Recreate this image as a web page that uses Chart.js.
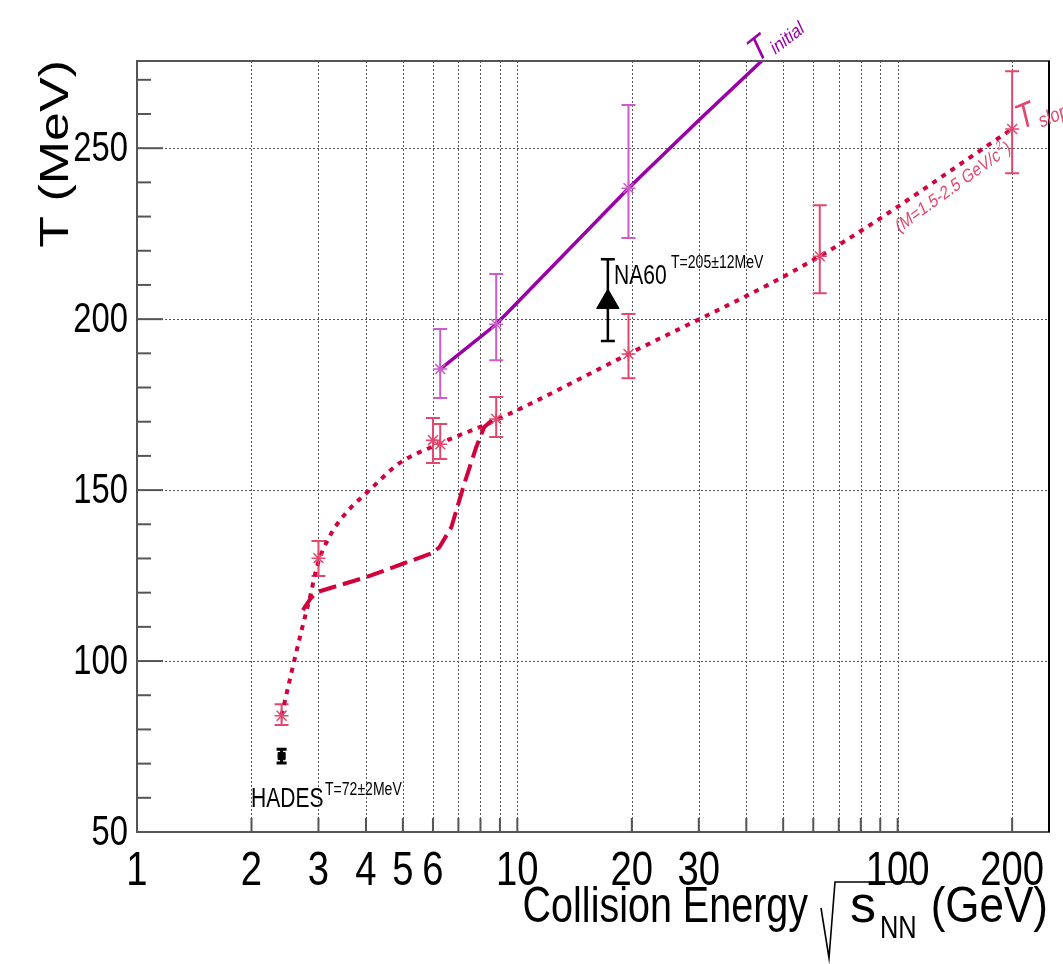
<!DOCTYPE html>
<html>
<head>
<meta charset="utf-8">
<script src="https://cdn.jsdelivr.net/npm/chart.js@4.4.1/dist/chart.umd.min.js"></script>
<style>
  html, body { margin: 0; padding: 0; background: #fff; }
</style>
</head>
<body>
<canvas id="graphCanvas" width="1063" height="964"></canvas>
<script>
// T_slope measurements (stars)
const slopeEnergy = [2.4, 3.0, 6.0, 6.27, 8.8, 19.6, 62.4, 200];
const slopeT      = [84.0, 130.1, 164.6, 163.4, 170.8, 189.8, 218.4, 255.6];
const slopeTHi    = [87.4, 135.1, 171.1, 169.3, 177.2, 201.5, 233.3, 272.5];
const slopeTLo    = [81.3, 124.9, 157.9, 159.1, 165.5, 182.7, 207.6, 242.7];

// T_initial measurements
const initEnergy = [6.27, 8.8, 19.6];
const initT      = [185.4, 198.5, 238.3];
const initTHi    = [197.1, 213.2, 262.6];
const initTLo    = [176.9, 188.0, 223.7];

// T_initial trend line (runs off the top of the frame)
const initLineE = [6.27, 8.8, 19.6, 30.0, 43.9];
const initLineT = [185.4, 198.5, 238.3, 258.2, 275.5];

// dotted curve (T_slope, M=1.5-2.5 GeV/c2)
const dotE = [2.4, 2.52, 2.71, 2.85, 2.98, 3.2, 3.5, 4.09, 4.9, 5.95, 8.8, 19.6, 62.4, 200];
const dotT = [84.0, 94.4, 109.1, 118.7, 128.0, 136.2, 142.6, 150.0, 157.9, 162.6, 170.5, 189.8, 218.4, 255.6];

// long-dashed curve
const dashE = [2.73, 2.86, 2.98, 4.02, 5.98, 6.24, 6.71, 7.26, 7.8, 8.18, 8.7];
const dashT = [114.9, 118.3, 120.2, 124.6, 131.6, 133.3, 139.2, 152.0, 162.6, 168.4, 171.0];

// HADES and NA60 points
const hades = { e: 2.4, t: 72.2, hi: 74.2, lo: 70.2 };
const na60  = { e: 17.3, t: 205, hi: 217.5, lo: 193.6 };

// axis ticks
const xTickVals  = [1, 2, 3, 4, 5, 6, 7, 8, 9, 10, 20, 30, 40, 50, 60, 70, 80, 90, 100, 200];
const xLabelVals = [1, 2, 3, 4, 5, 6, 10, 20, 30, 100, 200];
const yMajor = [50, 100, 150, 200, 250];
const yMinor = [60, 70, 80, 90, 110, 120, 130, 140, 160, 170, 180, 190, 210, 220, 230, 240, 260, 270];

const FONT = '"Liberation Sans", Arial, Helvetica, sans-serif';
const SQ = 0.78; // horizontal squeeze of the ROOT text look

const CRIMSON = '#d4003c';
const PINK = '#e2486e';
const PURPLE = '#9a00a8';
const LPURPLE = '#cc5ccc';

const pts = (xs, ys) => xs.map((v, i) => ({ x: v, y: ys[i] }));

function txt(ctx, s, x, y, size, opt) {
  opt = opt || {};
  ctx.save();
  ctx.translate(x, y);
  ctx.scale(opt.sx || SQ, 1);
  if (opt.rot) ctx.rotate(opt.rot);
  ctx.font = size + 'px ' + FONT;
  ctx.fillStyle = opt.color || '#000';
  ctx.textAlign = opt.align || 'left';
  ctx.textBaseline = opt.base || 'alphabetic';
  ctx.fillText(s, 0, 0);
  ctx.restore();
}
// visible angle -> angle inside squeezed frame
const rotFor = deg => -Math.atan(Math.tan(deg * Math.PI / 180) * SQ);

function errBar(ctx, x, y, e, hi, lo, cap, color, lw) {
  const px = x.getPixelForValue(e);
  const top = y.getPixelForValue(hi), bot = y.getPixelForValue(lo);
  ctx.strokeStyle = color;
  ctx.lineWidth = lw;
  ctx.beginPath();
  ctx.moveTo(px, top); ctx.lineTo(px, bot);
  ctx.moveTo(px - cap, top); ctx.lineTo(px + cap, top);
  ctx.moveTo(px - cap, bot); ctx.lineTo(px + cap, bot);
  ctx.stroke();
}

const rootStyle = {
  id: 'rootStyle',
  beforeDatasetsDraw(chart) {
    const { ctx, chartArea: a, scales: { x, y } } = chart;
    ctx.save();
    // dotted grid
    ctx.strokeStyle = '#555';
    ctx.lineWidth = 1;
    ctx.setLineDash([2, 2]);
    xTickVals.slice(1).forEach(v => {
      const px = Math.round(x.getPixelForValue(v)) + 0.5;
      ctx.beginPath(); ctx.moveTo(px, a.top); ctx.lineTo(px, a.bottom); ctx.stroke();
    });
    yMajor.slice(1).forEach(v => {
      const py = Math.round(y.getPixelForValue(v)) + 0.5;
      ctx.beginPath(); ctx.moveTo(a.left, py); ctx.lineTo(a.right, py); ctx.stroke();
    });
    ctx.setLineDash([]);
    // error bars
    slopeEnergy.forEach((e, i) => errBar(ctx, x, y, e, slopeTHi[i], slopeTLo[i], 7, PINK, 2));
    initEnergy.forEach((e, i) => errBar(ctx, x, y, e, initTHi[i], initTLo[i], 7, LPURPLE, 2));
    errBar(ctx, x, y, hades.e, hades.hi, hades.lo, 5, '#000', 3);
    errBar(ctx, x, y, na60.e, na60.hi, na60.lo, 7, '#000', 2.5);
    ctx.restore();
  },
  afterDatasetsDraw(chart) {
    const { ctx, chartArea: a, scales: { x, y } } = chart;
    ctx.save();
    // frame
    ctx.strokeStyle = '#555';
    ctx.lineWidth = 2;
    ctx.strokeRect(a.left, a.top, a.right - a.left, a.bottom - a.top);
    ctx.strokeStyle = '#000';
    ctx.beginPath(); ctx.moveTo(a.right, a.top); ctx.lineTo(a.right, a.bottom); ctx.stroke();
    // ticks
    ctx.strokeStyle = '#555';
    ctx.lineWidth = 2;
    xTickVals.forEach(v => {
      const px = x.getPixelForValue(v);
      ctx.beginPath(); ctx.moveTo(px, a.bottom); ctx.lineTo(px, a.bottom - 14); ctx.stroke();
    });
    yMajor.forEach(v => {
      const py = y.getPixelForValue(v);
      ctx.beginPath(); ctx.moveTo(a.left, py); ctx.lineTo(a.left + 26, py); ctx.stroke();
    });
    yMinor.forEach(v => {
      const py = y.getPixelForValue(v);
      ctx.beginPath(); ctx.moveTo(a.left, py); ctx.lineTo(a.left + 14, py); ctx.stroke();
    });
    // tick labels
    xLabelVals.forEach(v => txt(ctx, String(v), x.getPixelForValue(v), a.bottom + 53, 49, { align: 'center' }));
    yMajor.forEach(v => txt(ctx, String(v), a.left - 9, y.getPixelForValue(v) + 1, 42, { align: 'right', base: 'middle' }));

    // axis titles
    txt(ctx, 'T (MeV)', 68, a.top - 1, 52, { align: 'right', rot: -Math.PI / 2 });

    const base = 922;
    txt(ctx, '(GeV)', 1048, base, 50, { align: 'right', sx: 0.88 });
    txt(ctx, 'NN', 880, base + 16, 31, { sx: 0.82 });
    txt(ctx, 's', 850, base, 52, { sx: 1.0 });
    ctx.strokeStyle = '#000';
    ctx.lineWidth = 1.6;
    ctx.beginPath();
    ctx.moveTo(821, base - 14);
    ctx.lineTo(829, base + 36);
    ctx.lineTo(835, base - 40);
    ctx.lineTo(917, base - 40);
    ctx.stroke();
    txt(ctx, 'Collision Energy', 808, base, 50, { align: 'right', sx: 0.79 });

    // annotations
    txt(ctx, 'HADES', 251, 807, 27);
    txt(ctx, 'T=72\u00b12MeV', 325, 795, 18);
    txt(ctx, 'NA60', 614, 284, 27);
    txt(ctx, 'T=205\u00b112MeV', 671, 268, 18);

    // T_initial
    ctx.save();
    ctx.translate(756, 64);
    ctx.scale(SQ, 1);
    ctx.rotate(rotFor(38));
    ctx.fillStyle = PURPLE;
    ctx.font = '36px ' + FONT;
    ctx.fillText('T', 0, 0);
    const wT = ctx.measureText('T').width;
    ctx.font = '20px ' + FONT;
    ctx.fillText('initial', wT + 3, 5);
    ctx.restore();

    // T_slope (runs off the canvas edge)
    ctx.save();
    ctx.translate(1020, 130);
    ctx.scale(SQ, 1);
    ctx.rotate(rotFor(22));
    ctx.fillStyle = PINK;
    ctx.font = '36px ' + FONT;
    ctx.fillText('T', 0, 0);
    const wT2 = ctx.measureText('T').width;
    ctx.font = '21px ' + FONT;
    ctx.fillText('slope', wT2 + 4, 6);
    ctx.restore();

    // mass window label along the dotted curve
    ctx.save();
    ctx.translate(899, 233);
    ctx.scale(SQ, 1);
    ctx.rotate(rotFor(36));
    ctx.fillStyle = PINK;
    ctx.font = '19px ' + FONT;
    ctx.fillText('(M=1.5-2.5 GeV/c', 0, 0);
    const wm = ctx.measureText('(M=1.5-2.5 GeV/c').width;
    ctx.font = '12px ' + FONT;
    ctx.fillText('2', wm + 1, -9);
    ctx.font = '19px ' + FONT;
    ctx.fillText(')', wm + 9, 0);
    ctx.restore();

    ctx.restore();
  }
};

const canvas = document.getElementById('graphCanvas');
const ctx = canvas.getContext('2d');

new Chart(ctx, {
  type: 'scatter',
  data: {
    datasets: [
      {
        data: [{ x: na60.e, y: na60.t }],
        pointStyle: 'triangle', pointRadius: 13,
        backgroundColor: '#000', borderColor: '#000', borderWidth: 1
      },
      {
        data: [{ x: hades.e, y: hades.t }],
        pointStyle: 'rect', pointRadius: 5,
        backgroundColor: '#000', borderColor: '#000', borderWidth: 1
      },
      {
        data: pts(slopeEnergy, slopeT),
        pointStyle: 'star', pointRadius: 7,
        borderColor: PINK, backgroundColor: PINK, borderWidth: 1.5
      },
      {
        data: pts(initEnergy, initT),
        pointStyle: 'star', pointRadius: 7,
        borderColor: LPURPLE, backgroundColor: LPURPLE, borderWidth: 1.5
      },
      {
        data: pts(initLineE, initLineT),
        showLine: true, pointRadius: 0,
        borderColor: PURPLE, borderWidth: 3.5
      },
      {
        data: pts(dashE, dashT),
        showLine: true, pointRadius: 0,
        borderColor: CRIMSON, borderWidth: 4, borderDash: [18, 7]
      },
      {
        data: pts(dotE, dotT),
        showLine: true, pointRadius: 0, cubicInterpolationMode: 'monotone',
        borderColor: CRIMSON, borderWidth: 4, borderDash: [5, 6]
      }
    ]
  },
  options: {
    responsive: false,
    animation: false,
    layout: { padding: { left: 137, right: 12, top: 61, bottom: 132 } },
    plugins: { legend: { display: false }, tooltip: { enabled: false } },
    scales: {
      x: { type: 'logarithmic', min: 1, max: 250, display: false },
      y: { type: 'linear', min: 50, max: 275.5, display: false }
    }
  },
  plugins: [rootStyle]
});
</script>
</body>
</html>
